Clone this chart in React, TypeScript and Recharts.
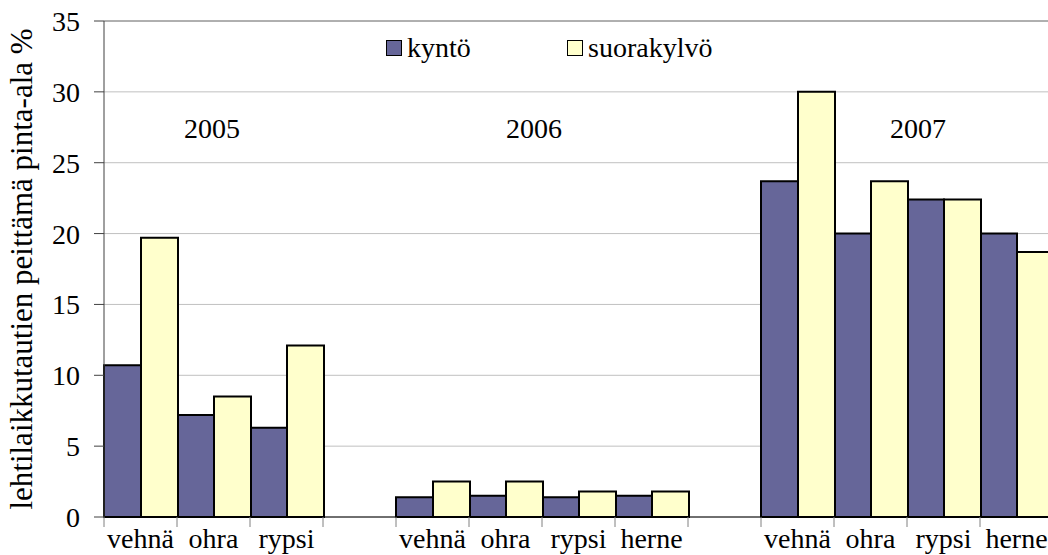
import { Bar, BarChart, CartesianGrid, Legend, ReferenceLine, XAxis, YAxis } from 'recharts'

const crops = ['vehnä', 'ohra', 'rypsi', '', 'vehnä', 'ohra', 'rypsi', 'herne', '', 'vehnä', 'ohra', 'rypsi', 'herne']
const kynto = [10.7, 7.2, 6.3, null, 1.4, 1.5, 1.4, 1.5, null, 23.7, 20.0, 22.4, 20.0]
const suorakylvo = [19.7, 8.5, 12.1, null, 2.5, 2.5, 1.8, 1.8, null, 30.0, 23.7, 22.4, 18.7]
const yTicks = [0, 5, 10, 15, 20, 25, 30, 35]
const years = [
  { label: '2005', x: 212 },
  { label: '2006', x: 534 },
  { label: '2007', x: 918 },
]

const data = crops.map((crop, i) => ({ crop, kynto: kynto[i], suorakylvo: suorakylvo[i] }))

const FONT = 'Liberation Serif'
const KYNTO_COLOR = '#666699'
const SUORA_COLOR = '#FFFFCC'

interface TickProps {
  x?: number
  y?: number
  payload?: { value: string; offset?: number; index: number }
}

// label in the middle of the band, tick marks on the band edges
function CropTick({ x = 0, y = 0, payload }: TickProps) {
  if (!payload) return null
  const half = payload.offset ?? 0
  const last = payload.index === crops.length - 1
  return (
    <g>
      <line x1={x - half} x2={x - half} y1={y} y2={y + 10} stroke="#808080" />
      {last && <line x1={x + half} x2={x + half} y1={y} y2={y + 10} stroke="#808080" />}
      <text x={x} y={y + 31} textAnchor="middle" fontSize={28} fontFamily={FONT} fill="#000">
        {payload.value}
      </text>
    </g>
  )
}

function LegendBox() {
  const items = [
    { name: 'kyntö', color: KYNTO_COLOR, width: 181 },
    { name: 'suorakylvö', color: SUORA_COLOR, width: 160 },
  ]
  return (
    <div style={{ display: 'flex', fontFamily: FONT, fontSize: 28, lineHeight: '28px' }}>
      {items.map((it) => (
        <div key={it.name} style={{ display: 'flex', alignItems: 'center', width: it.width }}>
          <span
            style={{
              display: 'inline-block',
              width: 14,
              height: 14,
              background: it.color,
              border: '1.5px solid #000',
              marginRight: 5,
            }}
          />
          <span>{it.name}</span>
        </div>
      ))}
    </div>
  )
}

export default function App() {
  return (
    <div
      style={{
        position: 'absolute',
        left: 0,
        top: 0,
        width: 1048,
        height: 555,
        overflow: 'hidden',
        fontFamily: FONT,
      }}
    >
      <BarChart
        width={1060}
        height={555}
        data={data}
        margin={{ top: 21, right: 7, bottom: 0, left: 0 }}
        barCategoryGap={0}
        barGap={0}
      >
        <CartesianGrid vertical={false} stroke="#c0c0c0" />
        <XAxis
          dataKey="crop"
          interval={0}
          height={38}
          tickSize={0}
          tickMargin={0}
          tickLine={false}
          axisLine={{ stroke: '#000' }}
          tick={<CropTick />}
        />
        <YAxis
          width={104}
          domain={[0, 35]}
          ticks={yTicks}
          interval={0}
          tickSize={10}
          tickMargin={14}
          axisLine={{ stroke: '#404040' }}
          tickLine={{ stroke: '#404040' }}
          tick={{ fill: '#000', fontSize: 28, fontFamily: FONT }}
          label={{
            value: 'lehtilaikkutautien peittämä pinta-ala %',
            angle: -90,
            position: 'insideLeft',
            offset: 21,
            style: { textAnchor: 'middle', fontSize: 31, fontFamily: FONT, fill: '#000' },
          }}
        />
        <ReferenceLine y={35} stroke="#808080" />
        <Legend
          layout="horizontal"
          verticalAlign="middle"
          align="center"
          content={<LegendBox />}
          wrapperStyle={{ top: 34, left: 386, width: 'auto' }}
        />
        <Bar dataKey="kynto" name="kyntö" fill={KYNTO_COLOR} stroke="#000" strokeWidth={2} isAnimationActive={false} />
        <Bar dataKey="suorakylvo" name="suorakylvö" fill={SUORA_COLOR} stroke="#000" strokeWidth={2} isAnimationActive={false} />
      </BarChart>
      {years.map((yr) => (
        <div
          key={yr.label}
          style={{
            position: 'absolute',
            top: 115,
            left: yr.x - 50,
            width: 100,
            textAlign: 'center',
            fontFamily: FONT,
            fontSize: 28,
            lineHeight: '28px',
          }}
        >
          {yr.label}
        </div>
      ))}
    </div>
  )
}
